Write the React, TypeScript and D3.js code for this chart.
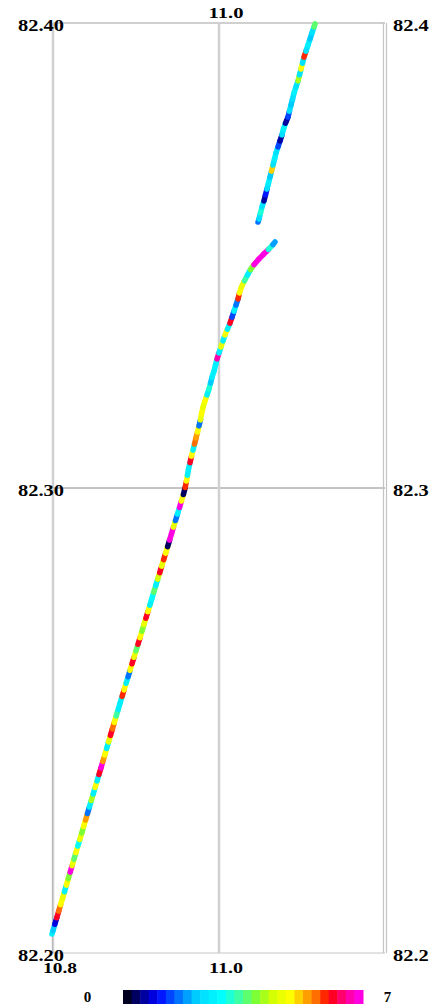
import { useEffect, useRef } from "react"
import * as d3 from "d3"

const xTicks = [10.8, 11.0]
const xTickLabels = ["10.8", "11.0"]
const yTicks = [82.2, 82.3, 82.4]
const yTickLabels = ["82.20", "82.30", "82.40"]
const xDomain = [10.8, 11.2]
const yDomain = [82.2, 82.4]

const colorStops = [0, 0.5, 1.0, 1.6, 2.2, 2.9, 3.4, 3.9, 4.4, 4.9, 5.2, 5.7, 6.0, 6.5, 7.0]
const colorHex = [
  "#000000", "#000080", "#0000ff", "#0070ff", "#00d8ff", "#00ffff", "#40ffa0", "#80ff30",
  "#d8ff00", "#ffff00", "#ffc000", "#ff6000", "#ff0000", "#ff0090", "#ff00ff",
]
const colorbarLabels = ["0", "7"]

// lower track (southern part, ending in the bend)
const lowerLat = [
  82.2041, 82.2055, 82.2069, 82.2083, 82.2097, 82.2111, 82.2125, 82.2139, 82.2153, 82.2167,
  82.2181, 82.2195, 82.2209, 82.2223, 82.2237, 82.2251, 82.2265, 82.2279, 82.2293, 82.2307,
  82.2321, 82.2335, 82.2349, 82.2363, 82.2377, 82.2391, 82.2405, 82.2419, 82.2433, 82.2447,
  82.2461, 82.2475, 82.2489, 82.2503, 82.2517, 82.2531, 82.2545, 82.2559, 82.2573, 82.2587,
  82.2601, 82.2615, 82.2629, 82.2643, 82.2657, 82.2671, 82.2685, 82.2699, 82.2713, 82.2727,
  82.2741, 82.2755, 82.2769, 82.2783, 82.2797, 82.2811, 82.2825, 82.2839, 82.2853, 82.2867,
  82.2881, 82.2895, 82.2909, 82.2923, 82.2937, 82.2951, 82.2965, 82.2979, 82.2993,
  82.3009, 82.3021, 82.3034, 82.3047, 82.3062, 82.3075, 82.3088, 82.3101, 82.3114, 82.3127,
  82.314, 82.3153, 82.3166, 82.3181, 82.3194, 82.3206, 82.3219, 82.3232, 82.3245, 82.3258,
  82.3271, 82.3284, 82.3297, 82.331, 82.3323, 82.3335, 82.3348, 82.3361, 82.3374, 82.3387,
  82.34, 82.3413, 82.3426, 82.3439, 82.3452, 82.3464, 82.3475, 82.3486, 82.3497, 82.3508,
  82.3518, 82.3529,
]
const lowerLon = [
  10.7988, 10.8011, 10.8034, 10.8057, 10.808, 10.8104, 10.8127, 10.815, 10.8173, 10.8196,
  10.8219, 10.8242, 10.8265, 10.8288, 10.8311, 10.8335, 10.8358, 10.8381, 10.8404, 10.8427,
  10.845, 10.8473, 10.8496, 10.8519, 10.8542, 10.8566, 10.8589, 10.8612, 10.8635, 10.8658,
  10.8681, 10.8704, 10.8727, 10.875, 10.8774, 10.8798, 10.8821, 10.8845, 10.8869, 10.8893,
  10.8917, 10.894, 10.8964, 10.8988, 10.9012, 10.9036, 10.906, 10.9083, 10.9107, 10.9131,
  10.9155, 10.9179, 10.9202, 10.9226, 10.925, 10.9274, 10.9298, 10.9321, 10.9345, 10.9369,
  10.9393, 10.9417, 10.944, 10.9464, 10.9488, 10.9512, 10.9536, 10.9559, 10.9583,
  10.9602, 10.9614, 10.9626, 10.9639, 10.9663, 10.9675, 10.9699, 10.9711, 10.9735, 10.9747,
  10.9771, 10.9783, 10.9795, 10.9819, 10.9843, 10.9867, 10.9892, 10.9904, 10.9928, 10.9952,
  10.9964, 10.9988, 11.0012, 11.0036, 11.006, 11.0084, 11.012, 11.0145, 11.0169, 11.0193,
  11.0217, 11.0241, 11.0253, 11.0289, 11.0325, 11.0361, 11.0398, 11.0446, 11.0506, 11.0566,
  11.0626, 11.0675,
]
const lowerVal = [
  2.6, 2.2, 0.9, 6.1, 5.6, 4.8, 4.6, 2.6, 4.8, 3.8,
  6.8, 4.7, 3.7, 4.8, 2.8, 4.6, 3.8, 4.8, 5.4, 1.5,
  2.6, 4.2, 2.7, 4.8, 2.6, 6.1, 6.8, 5.4, 4.8, 2.7,
  4.7, 6.0, 5.5, 4.8, 3.3, 2.7, 2.6, 5.8, 4.8, 2.6,
  1.6, 4.8, 6.0, 4.6, 3.7, 6.0, 4.8, 3.8, 4.7, 6.0,
  4.8, 2.7, 2.8, 3.6, 2.7, 4.3, 6.0, 4.7, 5.9, 4.8,
  0.3, 6.8, 6.9, 4.7, 1.5, 2.6, 6.8, 4.8, 0.4,
  5.8, 4.8, 2.7, 2.6, 6.0, 4.8, 2.7, 5.5, 5.4, 4.8,
  1.5, 4.7, 4.8, 4.6, 4.8, 2.6, 3.2, 2.0, 2.6, 2.7,
  2.6, 6.6, 2.7, 4.7, 2.6, 4.8, 2.7, 6.0, 1.4, 2.6,
  1.6, 5.8, 4.8, 4.7, 3.4, 2.6, 3.8, 6.8, 6.9, 6.8,
  3.0, 1.8,
]

// upper track (northern part)
const upperLat = [
  82.3572, 82.3585, 82.3598, 82.3611, 82.3624, 82.3637, 82.3649, 82.3662, 82.3675, 82.3688,
  82.3701, 82.3714, 82.3727, 82.374, 82.3753, 82.3766, 82.3778, 82.3791, 82.3804, 82.3817,
  82.383, 82.3843, 82.3856, 82.3869, 82.3882, 82.3895, 82.3907, 82.392, 82.3933, 82.3946,
  82.3959, 82.3972, 82.3985, 82.3998,
]
const upperLon = [
  11.047, 11.0494, 11.0506, 11.053, 11.0554, 11.0566, 11.059, 11.0602, 11.0627, 11.0639,
  11.0663, 11.0675, 11.0699, 11.0723, 11.0747, 11.0771, 11.0783, 11.0819, 11.0843, 11.0855,
  11.088, 11.0892, 11.0916, 11.094, 11.0964, 11.0976, 11.1, 11.1012, 11.1036, 11.106,
  11.1084, 11.1108, 11.1133, 11.1157,
]
const upperVal = [
  1.6, 2.4, 3.2, 2.4, 0.5, 1.2, 2.4, 2.5, 2.0, 5.0,
  2.4, 2.6, 2.4, 1.4, 0.6, 2.4, 2.6, 0.7, 1.3, 2.4,
  2.1, 2.4, 2.6, 2.4, 4.0, 2.4, 4.8, 2.4, 5.9, 2.4,
  2.6, 2.0, 2.4, 3.5,
]

export default function App() {
  const svgRef = useRef<SVGSVGElement>(null)

  useEffect(() => {
    if (!svgRef.current) return
    const svg = d3.select(svgRef.current)
    svg.selectAll("*").remove()

    const x = d3.scaleLinear().domain(xDomain).range([53, 385])
    const y = d3.scaleLinear().domain(yDomain).range([953, 23])
    const color = d3.scaleLinear<string>().domain(colorStops).range(colorHex)
    const band = (v: number) => color(Math.min(6.9, Math.floor(v / 0.25) * 0.25 + 0.125))

    const font = "Liberation Serif, DejaVu Serif, Times New Roman, serif"

    // frame + grid
    const [x0, x1] = x.range()
    const [y0, y1] = y.range()
    svg.append("line").attr("x1", x0).attr("x2", x1).attr("y1", y1).attr("y2", y1)
      .attr("stroke", "#a0a0a0").attr("stroke-width", 1)
    svg.append("line").attr("x1", x0).attr("x2", x1).attr("y1", y0).attr("y2", y0)
      .attr("stroke", "#c4c4c4").attr("stroke-width", 1)
    svg.append("line").attr("x1", x0).attr("x2", x1).attr("y1", y(82.3)).attr("y2", y(82.3))
      .attr("stroke", "#888888").attr("stroke-width", 1)

    svg.selectAll(".vgrid")
      .data(xTicks)
      .enter()
      .append("line")
      .attr("class", "vgrid")
      .attr("x1", (d) => x(d))
      .attr("x2", (d) => x(d))
      .attr("y1", y1)
      .attr("y2", y0)
      .attr("stroke", "#d0d0d0")
      .attr("stroke-width", 2.5)
    svg.append("line").attr("x1", x0 - 0.5).attr("x2", x0 - 0.5).attr("y1", y(82.25)).attr("y2", y(82.2))
      .attr("stroke", "#b8b8b8").attr("stroke-width", 1)
    // right border (double line)
    ;[-1.5, 1.5].forEach((o) => {
      svg.append("line").attr("x1", x1 + o).attr("x2", x1 + o).attr("y1", y1).attr("y2", y0)
        .attr("stroke", "#c4c4c4").attr("stroke-width", 1.2)
    })

    // track: each sample drawn as a short rounded dash along the path
    const drawTrack = (lats: number[], lons: number[], vals: number[], cls: string) => {
      const pts = lats.map((lat, i) => ({ px: x(lons[i]), py: y(lat), v: vals[i] }))
      const segs = pts.map((p, i) => {
        const prev = pts[Math.max(0, i - 1)]
        const next = pts[Math.min(pts.length - 1, i + 1)]
        return {
          xa: (p.px + prev.px) / 2,
          ya: (p.py + prev.py) / 2,
          xb: (p.px + next.px) / 2,
          yb: (p.py + next.py) / 2,
          v: p.v,
        }
      })
      svg.selectAll("." + cls)
        .data(segs)
        .enter()
        .append("line")
        .attr("class", cls)
        .attr("x1", (d) => d.xa)
        .attr("y1", (d) => d.ya)
        .attr("x2", (d) => d.xb)
        .attr("y2", (d) => d.yb)
        .attr("stroke", (d) => band(d.v))
        .attr("stroke-width", 5.5)
        .attr("stroke-linecap", "round")
    }
    drawTrack(lowerLat, lowerLon, lowerVal, "lower")
    drawTrack(upperLat, upperLon, upperVal, "upper")

    // y labels left and right
    svg.selectAll(".ylab")
      .data(yTicks)
      .enter()
      .append("text")
      .attr("class", "ylab")
      .attr("x", 64)
      .attr("y", (d) => y(d) + 8)
      .attr("text-anchor", "end")
      .attr("textLength", 46)
      .attr("lengthAdjust", "spacingAndGlyphs")
      .attr("font-family", font)
      .attr("font-weight", "bold")
      .attr("font-size", 16)
      .text((d, i) => yTickLabels[i])
    svg.selectAll(".ylabr")
      .data(yTicks)
      .enter()
      .append("text")
      .attr("class", "ylabr")
      .attr("x", 393)
      .attr("y", (d) => y(d) + 8)
      .attr("textLength", 46)
      .attr("lengthAdjust", "spacingAndGlyphs")
      .attr("font-family", font)
      .attr("font-weight", "bold")
      .attr("font-size", 16)
      .text((d, i) => yTickLabels[i])

    // x labels: 11.0 on top, 10.8 and 11.0 at bottom
    svg.append("text")
      .attr("x", x(11.0) + 7)
      .attr("y", 18)
      .attr("text-anchor", "middle")
      .attr("textLength", 35)
      .attr("lengthAdjust", "spacingAndGlyphs")
      .attr("font-family", font)
      .attr("font-weight", "bold")
      .attr("font-size", 15)
      .text(xTickLabels[1])
    svg.selectAll(".xlab")
      .data(xTicks)
      .enter()
      .append("text")
      .attr("class", "xlab")
      .attr("x", (d) => x(d) + 7)
      .attr("y", 973)
      .attr("text-anchor", "middle")
      .attr("textLength", 34)
      .attr("lengthAdjust", "spacingAndGlyphs")
      .attr("font-family", font)
      .attr("font-weight", "bold")
      .attr("font-size", 15)
      .text((d, i) => xTickLabels[i])

    // colour bar
    const cb = d3.scaleLinear().domain([0, 7]).range([123, 363])
    const nBands = 28
    const bands = d3.range(nBands).map((k) => (k * 7) / nBands)
    svg.selectAll(".cb")
      .data(bands)
      .enter()
      .append("rect")
      .attr("class", "cb")
      .attr("x", (d) => cb(d))
      .attr("y", 990)
      .attr("width", cb(7 / nBands) - cb(0) + 0.5)
      .attr("height", 14)
      .attr("fill", (d) => color(d + 7 / nBands / 2))
    svg.selectAll(".cblab")
      .data([0, 7])
      .enter()
      .append("text")
      .attr("class", "cblab")
      .attr("x", (d) => (d === 0 ? 87.5 : 387.5))
      .attr("y", 1002)
      .attr("text-anchor", "middle")
      .attr("font-family", font)
      .attr("font-weight", "bold")
      .attr("font-size", 15)
      .text((d, i) => colorbarLabels[i])
  }, [])

  return (
    <svg
      ref={svgRef}
      width={429}
      height={1005}
      style={{ position: "absolute", left: 0, top: 0, background: "#fff" }}
    ></svg>
  )
}
